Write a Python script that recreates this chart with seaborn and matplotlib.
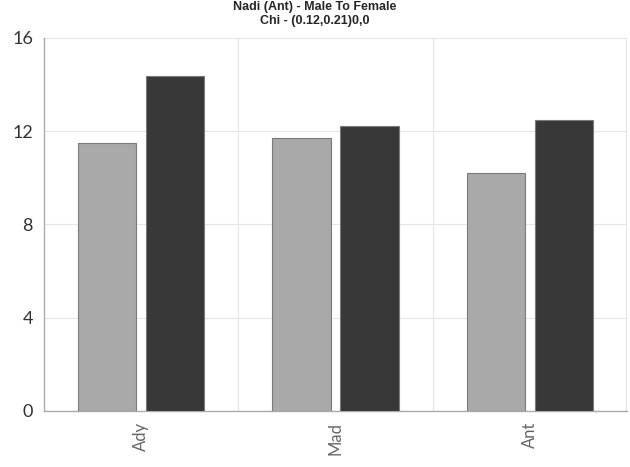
import pandas as pd
import matplotlib
matplotlib.use("Agg")
import matplotlib.pyplot as plt
import seaborn as sns

categories = ["Ady", "Mad", "Ant"]
series_names = ["Male", "Female"]
male_values = [11.5, 11.72, 10.2]
female_values = [14.35, 12.2, 12.47]
y_ticks = [0, 4, 8, 12, 16]

df = pd.DataFrame({
    "category": categories * 2,
    "series": [series_names[0]] * 3 + [series_names[1]] * 3,
    "value": male_values + female_values,
})

sns.set_style("white")
plt.rcParams["font.family"] = ["Lato", "DejaVu Sans"]

fig = plt.figure(figsize=(6.3, 4.67), dpi=100)
ax = fig.add_axes([0.07, 0.12, 0.925, 0.799])

sns.barplot(data=df, x="category", y="value", hue="series",
            palette=["#a9a9a9", "#383838"], width=0.7, gap=0.143,
            edgecolor="#7a7a7a", linewidth=0.8, legend=False, ax=ax, zorder=3)

ax.set_xlim(-0.5, 2.5)
ax.set_ylim(0, 16)
ax.set_yticks(y_ticks)
ax.set_yticklabels([str(t) for t in y_ticks], fontsize=13, color="#333333")
ax.set_xticks(range(len(categories)))
ax.set_xticklabels(categories, rotation=90, fontsize=12, color="#666666")
ax.set_xticks([0.5, 1.5, 2.495], minor=True)
ax.tick_params(axis="both", which="both", length=0, pad=8)
ax.grid(axis="y", which="major", color="#e6e6e6", linewidth=0.8, zorder=0)
ax.grid(axis="x", which="minor", color="#e6e6e6", linewidth=0.8, zorder=0)
ax.set_xlabel("")
ax.set_ylabel("")

for side in ["top", "right"]:
    ax.spines[side].set_visible(False)
for side in ["left", "bottom"]:
    ax.spines[side].set_color("#aaaaaa")
    ax.spines[side].set_linewidth(1)

fig.suptitle("Nadi (Ant) - Male To Female\nChi - (0.12,0.21)0,0",
             fontsize=9, fontweight="bold", family=["Liberation Sans", "DejaVu Sans"],
             y=0.997, va="top", x=0.5, linespacing=1.15)

fig.savefig("out.png", dpi=100)
